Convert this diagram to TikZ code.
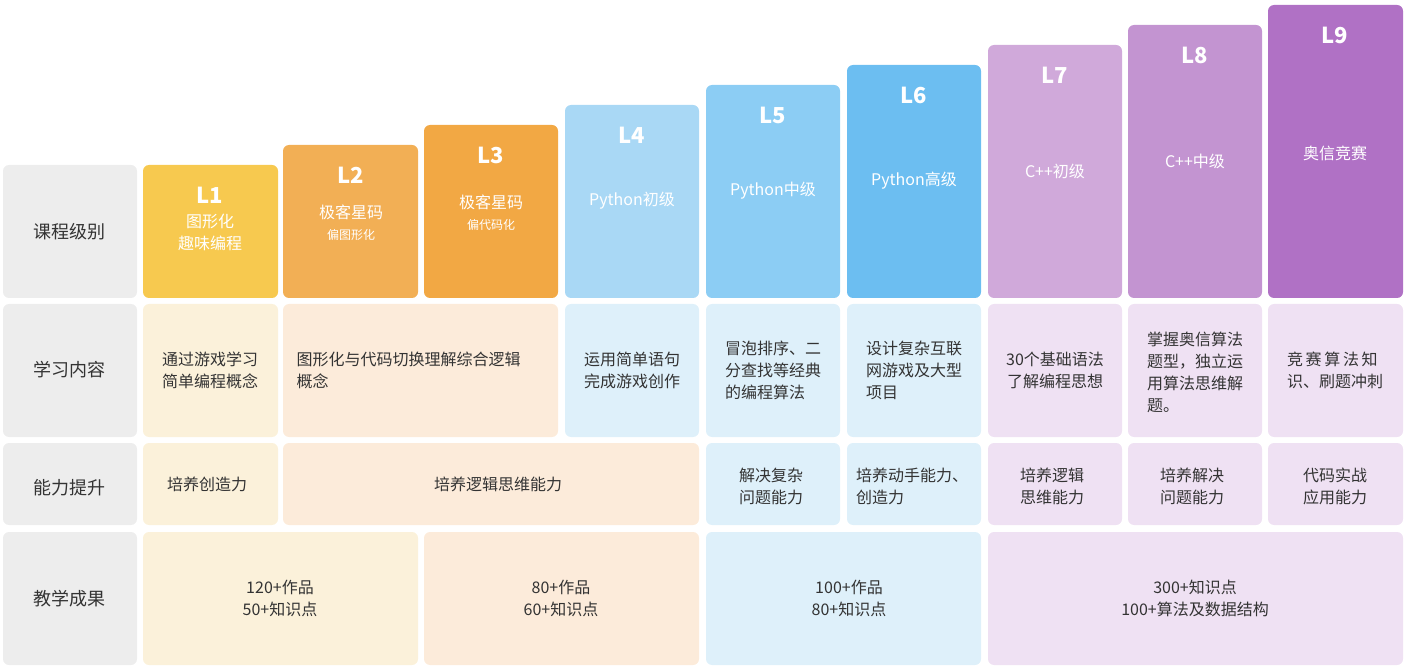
\documentclass[tikz,border=0pt]{standalone}
\usepackage{fontspec}
\setmainfont{Noto Sans CJK SC}
\definecolor{lab}{HTML}{EDEDED}
\definecolor{hA}{HTML}{F7C94F}\definecolor{hB}{HTML}{F2AF55}\definecolor{hC}{HTML}{F2A844}
\definecolor{hD}{HTML}{A9D8F5}\definecolor{hE}{HTML}{8CCDF4}\definecolor{hF}{HTML}{6CBEF1}
\definecolor{hG}{HTML}{D0A9DA}\definecolor{hH}{HTML}{C394D1}\definecolor{hI}{HTML}{B071C5}
\definecolor{fY}{HTML}{FBF1DA}\definecolor{fO}{HTML}{FCEBDA}\definecolor{fB}{HTML}{DEF0FA}\definecolor{fP}{HTML}{EFE1F3}
\definecolor{tx}{HTML}{333333}
\begin{document}
\begin{tikzpicture}[x=1pt,y=-1pt,
 cell/.style={rounded corners=6pt},
 tt/.style={text=tx,font=\fontsize{16}{22}\selectfont,align=center},
 tl/.style={text=tx,font=\fontsize{16}{22}\selectfont,align=left},
 ht/.style={text=white,font=\fontsize{22}{26}\selectfont\bfseries},
 hs/.style={text=white,font=\fontsize{16}{22}\selectfont,align=center},
 hsm/.style={text=white,font=\fontsize{12}{14}\selectfont}]
\useasboundingbox (0,0) rectangle (1406,668);
% label column
\fill[lab,cell] (3,165) rectangle (137,298);
\fill[lab,cell] (3,304) rectangle (137,437);
\fill[lab,cell] (3,443) rectangle (137,525);
\fill[lab,cell] (3,532) rectangle (137,665);
\node[tt,font=\fontsize{18}{22}\selectfont] (la) at (70,232) {课程级别};
\node[tt,font=\fontsize{18}{22}\selectfont] (lb) at (70,370) {学习内容};
\node[tt,font=\fontsize{18}{22}\selectfont] (lc) at (70,488) {能力提升};
\node[tt,font=\fontsize{18}{22}\selectfont] (ld) at (70,599) {教学成果};
% headers
\foreach \a/\b/\t/\c in {143/278/165/hA,283/418/145/hB,424/558/125/hC,565/699/105/hD,706/840/85/hE,847/981/65/hF,988/1122/45/hG,1128/1262/25/hH,1268/1403/5/hI}
 \fill[\c,cell] (\a,\t) rectangle (\b,298);
\node[ht] (h1) at (210,195) {L1};
\node[hs] (s1) at (210,232) {图形化\\趣味编程};
\node[ht] (h2) at (351,175) {L2};
\node[hs] (s2) at (351,212) {极客星码};
\node[hsm] (t2) at (351,235) {偏图形化};
\node[ht] (h3) at (491,155) {L3};
\node[hs] (s3) at (491,202) {极客星码};
\node[hsm] (t3) at (491,225) {偏代码化};
\node[ht] (h4) at (632,135) {L4};
\node[hs] (s4) at (632,201) {Python初级};
\node[ht] (h5) at (773,115) {L5};
\node[hs] (s5) at (773,191) {Python中级};
\node[ht] (h6) at (914,95) {L6};
\node[hs] (s6) at (914,181) {Python高级};
\node[ht] (h7) at (1055,75) {L7};
\node[hs] (s7) at (1055,171) {C++初级};
\node[ht] (h8) at (1195,55) {L8};
\node[hs] (s8) at (1195,161) {C++中级};
\node[ht] (h9) at (1335,35) {L9};
\node[hs] (s9) at (1335,153) {奥信竞赛};
% row 2
\foreach \a/\b/\c in {143/278/fY,283/558/fO,565/699/fB,706/840/fB,847/981/fB,988/1122/fP,1128/1262/fP,1268/1403/fP}
 \fill[\c,cell] (\a,304) rectangle (\b,437);
\node[tl] (b1) at (210,370) {通过游戏学习\\简单编程概念};
\node[tl,anchor=west] (b2) at (293,370) {图形化与代码切换理解综合逻辑\\概念};
\node[tl] (b4) at (632,370) {运用简单语句\\完成游戏创作};
\node[tl] (b5) at (773,370) {冒泡排序、二\\分查找等经典\\的编程算法};
\node[tl] (b6) at (914,370) {设计复杂互联\\网游戏及大型\\项目};
\node[tt] (b7) at (1055,370) {30个基础语法\\了解编程思想};
\node[tl] (b8) at (1195,372) {掌握奥信算法\\题型，独立运\\用算法思维解\\题。};
\node[tl] (b9) at (1335,370) {竞\,赛\,算\,法\,知\\识、刷题冲刺};
% row 3
\foreach \a/\b/\c in {143/278/fY,283/699/fO,706/840/fB,847/981/fB,988/1122/fP,1128/1262/fP,1268/1403/fP}
 \fill[\c,cell] (\a,443) rectangle (\b,525);
\node[tt] (c1) at (207,484) {培养创造力};
\node[tt] (c2) at (498,484) {培养逻辑思维能力};
\node[tl] (c5) at (771,486) {解决复杂\\问题能力};
\node[tl] (c6) at (912,486) {培养动手能力、\\创造力};
\node[tt] (c7) at (1052,486) {培养逻辑\\思维能力};
\node[tt] (c8) at (1192,486) {培养解决\\问题能力};
\node[tt] (c9) at (1335,486) {代码实战\\应用能力};
% row 4
\foreach \a/\b/\c in {143/418/fY,424/699/fO,706/981/fB,988/1403/fP}
 \fill[\c,cell] (\a,532) rectangle (\b,665);
\node[tt] (d1) at (280,598) {120+作品\\50+知识点};
\node[tt] (d2) at (561,598) {80+作品\\60+知识点};
\node[tt] (d3) at (849,598) {100+作品\\80+知识点};
\node[tt] (d4) at (1195,598) {300+知识点\\100+算法及数据结构};
\end{tikzpicture}
\end{document}
